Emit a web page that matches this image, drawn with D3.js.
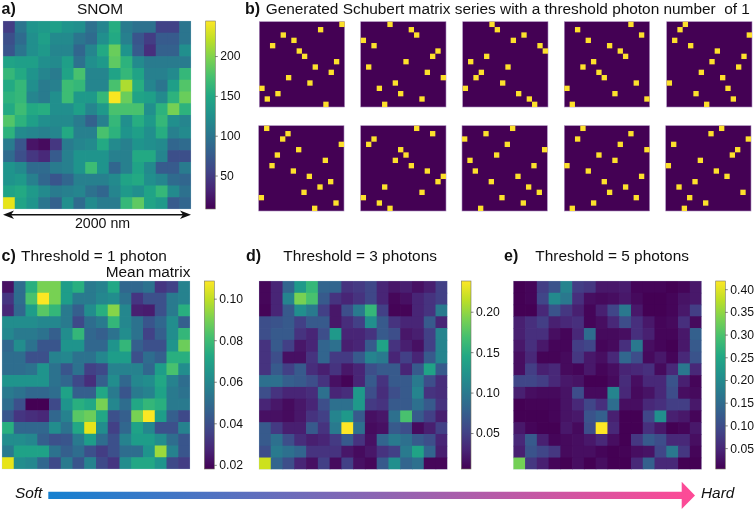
<!DOCTYPE html>
<html><head><meta charset="utf-8">
<script src="https://cdn.jsdelivr.net/npm/d3@7"></script>
<style>
html,body{margin:0;padding:0;background:#fff}
svg{display:block;font-family:"Liberation Sans",Arial,sans-serif;filter:blur(0.35px)}
text{white-space:pre;fill:#111}
</style></head><body>
<svg id="chart" width="755" height="510"></svg>
<script>
// Panel a: SNOM intensity
const snom = [
[50,100,130,135,140,130,125,95,115,155,105,95,95,55,55,100],
[65,90,125,140,120,120,100,90,125,150,110,70,50,75,75,100],
[70,100,125,135,115,115,85,115,150,190,130,75,40,80,80,125],
[145,140,140,125,120,140,95,125,135,185,160,120,105,105,105,105],
[165,150,130,115,105,145,175,115,115,145,165,145,110,110,120,165],
[150,165,125,105,110,170,165,115,115,175,215,155,115,100,140,180],
[160,165,115,105,125,170,135,135,165,242,190,145,140,120,160,190],
[150,170,150,155,125,125,140,115,135,175,175,175,125,160,195,160],
[180,160,140,125,120,120,105,80,110,165,125,155,135,165,125,115],
[160,120,115,110,115,150,110,110,175,160,130,140,125,155,110,120],
[105,70,20,15,45,105,115,120,150,120,110,130,125,120,85,90],
[90,65,45,35,75,110,130,130,130,110,110,150,150,115,65,65],
[130,120,90,90,105,110,130,170,130,85,110,145,120,75,75,105],
[130,135,110,85,70,85,110,110,110,120,145,150,125,115,90,85],
[145,150,135,120,105,110,115,95,85,115,135,125,145,165,120,95],
[235,145,130,100,80,125,90,120,105,105,165,185,145,135,75,85]];
// Panel c: threshold 1
const mean1 = [
[.022,.050,.075,.090,.090,.068,.075,.055,.058,.072,.048,.048,.052,.032,.036,.058],
[.032,.050,.082,.108,.090,.068,.055,.055,.060,.062,.052,.032,.040,.040,.055,.058],
[.028,.048,.068,.085,.078,.055,.045,.062,.075,.092,.060,.026,.025,.040,.055,.075],
[.062,.062,.062,.060,.060,.055,.038,.050,.055,.078,.060,.052,.042,.048,.062,.045],
[.060,.055,.055,.052,.045,.062,.078,.048,.045,.052,.062,.052,.036,.045,.062,.078],
[.048,.062,.052,.042,.042,.065,.065,.048,.048,.065,.078,.045,.040,.040,.065,.088],
[.050,.050,.040,.040,.058,.060,.052,.052,.060,.068,.068,.040,.050,.045,.075,.075],
[.050,.050,.052,.065,.052,.042,.052,.035,.038,.058,.058,.058,.048,.068,.082,.062],
[.065,.065,.065,.065,.052,.048,.038,.030,.045,.062,.048,.060,.062,.072,.058,.050],
[.055,.052,.048,.048,.050,.070,.045,.045,.072,.055,.042,.055,.058,.070,.055,.052],
[.050,.040,.018,.018,.038,.065,.075,.072,.090,.060,.050,.072,.078,.075,.055,.055],
[.042,.032,.030,.028,.048,.058,.085,.088,.072,.040,.045,.090,.108,.068,.045,.038],
[.075,.048,.048,.048,.062,.052,.072,.105,.062,.035,.048,.070,.060,.040,.040,.058],
[.062,.062,.060,.045,.040,.042,.055,.068,.050,.040,.058,.068,.068,.062,.050,.042],
[.055,.070,.070,.070,.052,.045,.050,.040,.034,.040,.050,.050,.065,.095,.058,.042],
[.105,.062,.060,.048,.038,.055,.042,.058,.038,.032,.062,.072,.072,.065,.038,.034]];
// Panel d: threshold 3
const mean3 = [
[.01,.03,.08,.13,.16,.08,.08,.04,.045,.055,.03,.02,.025,.015,.025,.05],
[.01,.03,.11,.19,.17,.07,.04,.03,.04,.055,.03,.01,.015,.03,.04,.05],
[.008,.03,.07,.12,.10,.05,.02,.06,.10,.16,.05,.008,.008,.03,.04,.10],
[.06,.065,.07,.05,.07,.07,.02,.035,.05,.12,.07,.04,.03,.03,.07,.03],
[.06,.07,.07,.04,.03,.06,.13,.03,.03,.04,.07,.06,.02,.025,.05,.11],
[.04,.07,.05,.02,.03,.08,.09,.025,.03,.07,.14,.04,.025,.015,.05,.11],
[.04,.06,.015,.015,.04,.08,.045,.045,.07,.11,.10,.03,.05,.03,.07,.11],
[.04,.07,.05,.07,.035,.025,.04,.02,.03,.06,.07,.07,.03,.07,.14,.07],
[.09,.09,.075,.07,.06,.04,.015,.008,.03,.07,.04,.07,.07,.10,.06,.035],
[.06,.04,.03,.03,.035,.09,.03,.035,.13,.06,.035,.06,.07,.11,.04,.035],
[.03,.02,.012,.02,.03,.06,.09,.09,.13,.045,.04,.07,.07,.09,.07,.04],
[.015,.015,.012,.02,.04,.05,.11,.13,.07,.015,.02,.09,.17,.07,.05,.025],
[.07,.045,.025,.025,.07,.04,.10,.238,.09,.012,.015,.07,.06,.012,.025,.05],
[.07,.09,.06,.035,.025,.03,.045,.07,.04,.015,.08,.10,.09,.07,.06,.03],
[.06,.10,.09,.08,.04,.04,.04,.02,.012,.02,.04,.05,.10,.14,.08,.025],
[.22,.08,.06,.03,.015,.05,.012,.05,.015,.01,.07,.12,.08,.09,.01,.01]];
// Panel e: threshold 5
const mean5 = [
[.005,.01,.08,.11,.19,.08,.07,.03,.03,.035,.01,.01,.01,.005,.01,.03],
[.005,.01,.09,.20,.17,.06,.02,.015,.02,.03,.015,.005,.005,.01,.025,.03],
[.003,.005,.05,.11,.07,.04,.01,.04,.09,.17,.03,.005,.005,.01,.03,.08],
[.04,.06,.08,.04,.05,.06,.01,.02,.05,.10,.06,.03,.01,.015,.06,.015],
[.04,.06,.06,.02,.01,.05,.15,.015,.015,.02,.06,.04,.01,.01,.03,.13],
[.03,.06,.03,.01,.01,.08,.09,.01,.015,.06,.17,.02,.01,.005,.03,.12],
[.02,.05,.008,.008,.015,.07,.03,.02,.05,.14,.10,.015,.03,.01,.05,.11],
[.02,.08,.04,.05,.015,.01,.03,.01,.02,.045,.05,.06,.015,.05,.17,.05],
[.09,.09,.08,.05,.03,.025,.005,.004,.015,.055,.02,.05,.05,.11,.04,.01],
[.04,.02,.015,.015,.025,.10,.015,.015,.19,.05,.015,.025,.05,.10,.02,.015],
[.005,.008,.008,.01,.025,.05,.09,.06,.15,.02,.02,.05,.06,.08,.08,.03],
[.004,.004,.004,.01,.025,.03,.11,.13,.04,.005,.005,.09,.21,.04,.03,.01],
[.03,.01,.005,.005,.03,.015,.10,.418,.05,.005,.005,.06,.03,.005,.01,.03],
[.05,.12,.04,.01,.015,.02,.03,.05,.02,.005,.07,.12,.10,.05,.05,.02],
[.04,.11,.09,.07,.015,.02,.02,.01,.004,.008,.02,.025,.09,.17,.07,.01],
[.33,.07,.04,.01,.005,.02,.004,.02,.005,.004,.05,.13,.05,.05,.005,.004]];
// Panel b: column of the lit cell in each row, one list per matrix
const schubert1 = [15,11,4,6,2,7,8,14,10,13,5,9,0,3,1,12];
const schubert2 = [5,9,10,0,2,14,13,8,1,12,15,6,3,7,11,4];
const schubert3 = [5,6,11,9,14,15,4,1,8,3,2,7,0,10,12,13];
const schubert4 = [12,2,14,4,8,10,11,5,3,6,7,13,0,9,15,1];
const schubert5 = [3,2,15,1,4,9,14,8,13,6,10,0,11,5,12,7];
const schubert6 = [1,5,4,15,7,3,12,2,6,9,13,11,8,0,14,10];
const schubert7 = [10,13,2,1,7,8,6,9,12,15,14,4,11,0,3,5];
const schubert8 = [9,4,0,8,15,6,1,13,2,10,5,12,14,7,11,3];
const schubert9 = [3,12,2,10,15,6,9,0,4,14,7,11,8,13,5,1];
const schubert10 = [10,8,15,1,13,12,6,0,9,11,5,2,14,4,7,3];
// Colour bar ticks
const ticksA = [50,100,150,200];
const ticksC = [.02,.04,.06,.08,.10];
const ticksD = [.05,.10,.15,.20];
const ticksE = [.05,.10,.15,.20,.25,.30,.35,.40];
const domainA = [8,244], domainC = [.018,.1085], domainD = [.0055,.238], domainE = [.004,.418];

const svg = d3.select("#chart");
const idx = d3.range(16);
const defs = svg.append("defs");

function heat(data, x0, y0, w, domain){
  const color = d3.scaleSequential(domain, d3.interpolateViridis);
  const x = d3.scaleBand(idx, [x0, x0+w]), y = d3.scaleBand(idx, [y0, y0+w]);
  const g = svg.append("g");
  data.forEach((row,r)=>row.forEach((v,c)=>{
    g.append("rect").attr("x",x(c)).attr("y",y(r))
     .attr("width",x.bandwidth()+(c<15?.7:0)).attr("height",y.bandwidth()+(r<15?.7:0))
     .attr("fill",color(v));
  }));
  g.append("rect").attr("x",x0).attr("y",y0).attr("width",w).attr("height",w)
   .attr("fill","none").attr("stroke","#b9d2e2").attr("stroke-opacity",.5).attr("stroke-width",.5);
  return color;
}
function cbar(id, x0, y0, w, h, domain, ticks, fmt, tickSize){
  const grad = defs.append("linearGradient").attr("id",id).attr("x1",0).attr("y1",1).attr("x2",0).attr("y2",0);
  d3.range(0,1.0001,.1).forEach(t=>grad.append("stop").attr("offset",t)
     .attr("stop-color",d3.interpolateViridis(t)));
  svg.append("rect").attr("x",x0).attr("y",y0).attr("width",w).attr("height",h)
     .attr("fill",`url(#${id})`).attr("stroke","#776").attr("stroke-width",.6);
  const sc = d3.scaleLinear(domain,[y0+h,y0]);
  const ax = svg.append("g").attr("transform",`translate(${x0+w},0)`)
     .call(d3.axisRight(sc).tickValues(ticks).tickFormat(fmt).tickSize(tickSize).tickPadding(2.5));
  ax.select(".domain").remove();
  ax.selectAll("line").attr("stroke","#333").attr("stroke-width",.6);
  ax.selectAll("text").attr("font-size",12.2).attr("font-family","Liberation Sans").attr("fill","#222");
}
function schubert(perm, x0, y0, w){
  const x = d3.scaleBand(idx,[x0,x0+w]), y = d3.scaleBand(idx,[y0,y0+w]);
  const g = svg.append("g");
  g.append("rect").attr("x",x0).attr("y",y0).attr("width",w).attr("height",w)
   .attr("fill","#440154").attr("stroke","#a98bbb").attr("stroke-width",.6);
  perm.forEach((c,r)=>g.append("rect").attr("x",x(c)).attr("y",y(r))
     .attr("width",x.bandwidth()).attr("height",y.bandwidth()).attr("fill","#fde02c"));
}
function label(t,x,y,size,opts={}){
  const e = svg.append("text").attr("x",x).attr("y",y).attr("font-size",size).text(t);
  if(opts.bold) e.attr("font-weight","bold");
  if(opts.italic) e.attr("font-style","italic");
  if(opts.anchor) e.attr("text-anchor",opts.anchor);
  return e;
}

const f2 = d3.format(".2f"), f0 = d3.format("d");
heat(snom,3,21,188,domainA);
cbar("cbA",205.7,21,9.6,188,domainA,ticksA,f0,2.5);
heat(mean1,2,281,188,domainC);
cbar("cbC",204.3,281,10,188,domainC,ticksC,f2,2.5);
heat(mean3,259,281,188.3,domainD);
cbar("cbD",461.3,281,9.7,188,domainD,ticksD,f2,2.5);
heat(mean5,513.3,281,188.3,domainE);
cbar("cbE",715.7,281,9.6,188,domainE,ticksE,f2,2.5);

const w=85.3;
[[schubert1,259.3,21.7],[schubert2,360.7,21.7],[schubert3,462.7,21.7],[schubert4,564.3,21.7],[schubert5,666.7,21.7],
 [schubert6,258.7,125.7],[schubert7,360.7,125.7],[schubert8,462,125.7],[schubert9,564.3,125.7],[schubert10,665.7,125.7]]
 .forEach(([p,x,y])=>schubert(p,x,y,w));

const fs=15.4, fb=16;
label("a)",1.5,13.5,fb,{bold:true});
label("SNOM",100,14,fs,{anchor:"middle"});
label("b)",245,14,fb,{bold:true});
label("Generated Schubert matrix series with a threshold photon number  of 1",265.7,14,fs);
label("2000 nm",102.5,227.5,14.2,{anchor:"middle"});
label("c)",1.5,260.7,fb,{bold:true});
label("Threshold = 1 photon",21,260.7,fs);
label("Mean matrix",105.7,276.7,fs);
label("d)",246,260.7,fb,{bold:true});
label("Threshold = 3 photons",283.3,260.7,fs);
label("e)",504,260.7,fb,{bold:true});
label("Threshold = 5 photons",535.3,260.7,fs);
label("Soft",15,498,fs,{italic:true});
label("Hard",701,498,fs,{italic:true});

// Double arrow under panel a
const line = d3.line();
svg.append("path").attr("d",line([[8,214.8],[186,214.8]])).attr("stroke","#111").attr("stroke-width",1.4).attr("fill","none");
svg.append("path").attr("fill","#111").attr("d",line([[3,214.8],[14,210.6],[11,214.8],[14,219]])+"Z");
svg.append("path").attr("fill","#111").attr("d",line([[191,214.8],[180,210.6],[183,214.8],[180,219]])+"Z");

// Soft to Hard arrow
const g2 = defs.append("linearGradient").attr("id","softhard").attr("gradientUnits","userSpaceOnUse")
  .attr("x1",48).attr("x2",695).attr("y1",0).attr("y2",0);
g2.append("stop").attr("offset",0).attr("stop-color","#1480d0");
g2.append("stop").attr("offset",1).attr("stop-color","#ff4a96");
svg.append("path").attr("fill","url(#softhard)")
  .attr("d",line([[48.3,491.7],[681.7,491.7],[681.7,481.7],[695,495.4],[681.7,509],[681.7,499],[48.3,499]])+"Z");
</script>
</body></html>
